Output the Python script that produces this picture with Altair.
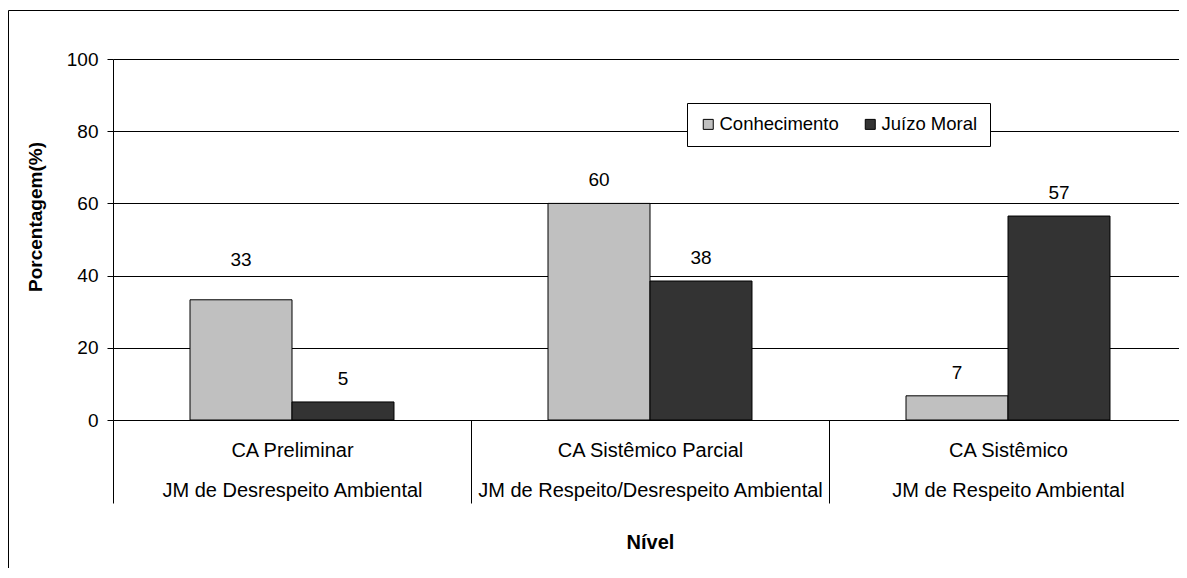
import altair as alt
import pandas as pd

# ---- data ----
ca_niveis = ["CA Preliminar", "CA Sistêmico Parcial", "CA Sistêmico"]
jm_niveis = ["JM de Desrespeito Ambiental", "JM de Respeito/Desrespeito Ambiental", "JM de Respeito Ambiental"]
series = ["Conhecimento", "Juízo Moral"]
conhecimento = [33.3, 60.0, 6.7]
juizo_moral = [5.0, 38.5, 56.5]
conhecimento_labels = ["33", "60", "7"]
juizo_labels = ["5", "38", "57"]
y_ticks = [0, 20, 40, 60, 80, 100]
colors = ["#C0C0C0", "#333333"]

FONT = "Liberation Sans"
FS = 19
FSX = 20
FSL = 18.5

niveis = [f"{a}|{b}" for a, b in zip(ca_niveis, jm_niveis)]
rows = []
for n, v, l in zip(niveis, conhecimento, conhecimento_labels):
    rows.append(dict(nivel=n, serie=series[0], valor=v, rotulo=l))
for n, v, l in zip(niveis, juizo_moral, juizo_labels):
    rows.append(dict(nivel=n, serie=series[1], valor=v, rotulo=l))
df = pd.DataFrame(rows)

x_enc = alt.X(
    "nivel:N",
    sort=niveis,
    scale=alt.Scale(paddingInner=0, paddingOuter=0),
    axis=alt.Axis(
        title="Nível",
        titleFontWeight="bold",
        titleFontSize=FSX,
        titleX=537,
        titleY=122,
        titleAlign="center",
        titleBaseline="middle",
        labelExpr="split(datum.label, '|')",
        labelFontSize=FSX,
        labelLineHeight=40,
        labelPadding=-63,
        labelLimit=600,
        labelAngle=0,
        labelBaseline="top",
        labelOverlap=False,
        tickBand="extent",
        tickSize=83,
        tickColor="black",
        tickWidth=1,
        domainColor="black",
        grid=False,
    ),
)
xoff = alt.XOffset("serie:N", sort=series,
                   scale=alt.Scale(paddingInner=0, paddingOuter=0.755))
y_enc = alt.Y(
    "valor:Q",
    scale=alt.Scale(domain=[0, 100], nice=False),
    axis=alt.Axis(
        title="Porcentagem(%)",
        titleFontWeight="bold",
        titleFontSize=FS,
        titleX=-78,
        titleY=157.5,
        titleAngle=270,
        titleAlign="center",
        titleBaseline="middle",
        values=y_ticks,
        labelFontSize=FS,
        tickSize=6,
        labelPadding=9,
        tickColor="black",
        domainColor="black",
        grid=True,
        gridColor="black",
        gridWidth=1,
    ),
)

frame_src = pd.DataFrame({"k": [0]})
frame_top = alt.Chart(frame_src).mark_rule(color="black", strokeWidth=1).encode(
    x=alt.value(-104.5), x2=alt.value(1300), y=alt.value(-48.5)
)
frame_left = alt.Chart(frame_src).mark_rule(color="black", strokeWidth=1).encode(
    x=alt.value(-104.5), y=alt.value(-48.5), y2=alt.value(800)
)

bars = alt.Chart(df).mark_bar(stroke="black", strokeWidth=1).encode(
    x=x_enc,
    xOffset=xoff,
    y=y_enc,
    color=alt.Color(
        "serie:N",
        scale=alt.Scale(domain=series, range=colors),
        legend=alt.Legend(
            title=None,
            orient="none",
            legendX=574,
            legendY=44,
            direction="horizontal",
            fillColor="white",
            strokeColor="black",
            padding=12,
            symbolType="square",
            symbolSize=100,
            symbolStrokeColor="black",
            symbolStrokeWidth=1,
            symbolOpacity=1,
            labelFontSize=FSL,
            labelFont=FONT,
            labelColor="black",
            labelOffset=2,
            columnPadding=22,
        ),
    ),
)

is_first = (alt.datum.nivel == niveis[0]) & (alt.datum.serie == series[0])

labels = alt.Chart(df).transform_filter(~is_first).mark_text(
    dy=-23, fontSize=FS, font=FONT, baseline="middle", color="black"
).encode(x=x_enc, xOffset=xoff, y=y_enc, text="rotulo:N")

label_first = alt.Chart(df).transform_filter(is_first).mark_text(
    dy=-40, fontSize=FS, font=FONT, baseline="middle", color="black"
).encode(x=x_enc, xOffset=xoff, y=y_enc, text="rotulo:N")

chart = alt.layer(frame_top, frame_left, bars, labels, label_first).properties(
    width=1074,
    height=361,
    padding={"left": 105, "top": 51, "right": -8, "bottom": 148},
    autosize="none",
).configure_view(stroke="transparent", strokeWidth=0).configure_axis(
    labelFont=FONT, titleFont=FONT, labelColor="black", titleColor="black"
).configure(background="white")

chart.save("out.html", embed_options={"renderer": "svg", "actions": False})
